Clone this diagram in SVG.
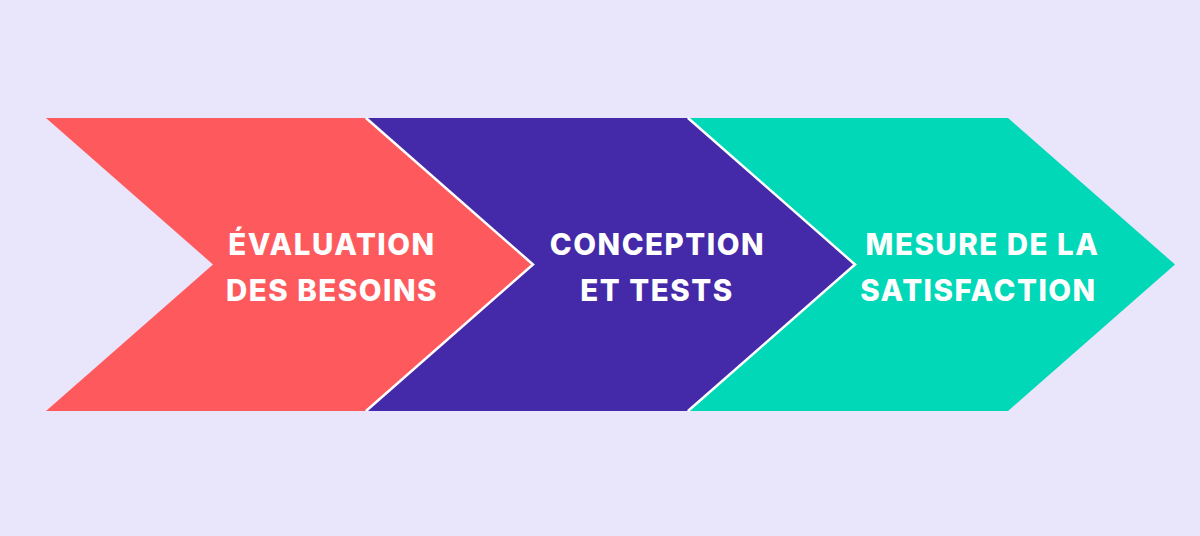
<svg xmlns="http://www.w3.org/2000/svg" width="1200" height="536" viewBox="0 0 1200 536">
<style>
.lbl{font-family:Inter,"Liberation Sans",sans-serif;font-weight:800;font-size:29.5px;letter-spacing:1.5px;fill:#fff;text-anchor:middle}
.sep{stroke:#fff;stroke-width:2.5;fill:none}
</style>
<rect width="1200" height="536" fill="#E9E5FA"/>
<g id="step1">
<polygon points="46,118 365,118 532,264.5 365,411 46,411 213,264.5" fill="#FE5A5E"/>
<text class="lbl" x="332" y="255">ÉVALUATION</text>
<text class="lbl" x="332" y="301">DES BESOINS</text>
</g>
<g id="step2">
<polygon points="366,118 687,118 854,264.5 687,411 366,411 533,264.5" fill="#4429A8"/>
<text class="lbl" x="657.5" y="255">CONCEPTION</text>
<text class="lbl" x="657" y="301">ET TESTS</text>
</g>
<g id="step3">
<polygon points="688,118 1008,118 1175,264.5 1008,411 688,411 855,264.5" fill="#00D8B8"/>
<text class="lbl" x="982.5" y="255">MESURE DE LA</text>
<text class="lbl" x="978.5" y="301">SATISFACTION</text>
</g>
<g id="connectors">
<polyline class="sep" points="366,118 533,264.5 366,411"/>
<polyline class="sep" points="688,118 855,264.5 688,411"/>
</g>
</svg>
